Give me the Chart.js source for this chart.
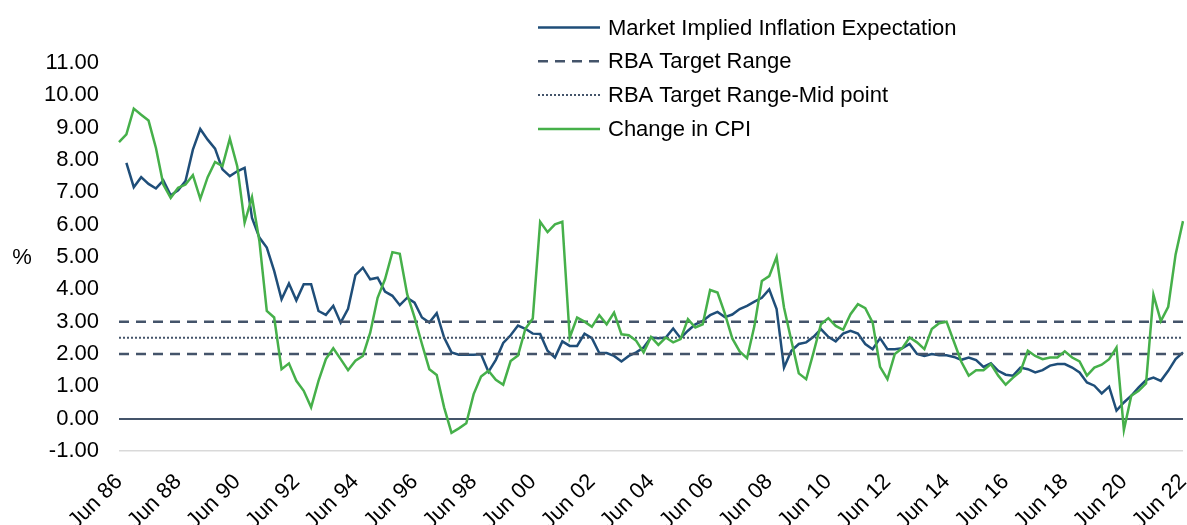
<!DOCTYPE html>
<html>
<head>
<meta charset="utf-8">
<script src="https://cdn.jsdelivr.net/npm/chart.js@4.4.1/dist/chart.umd.min.js"></script>
<style>
  body { margin: 0; background: #fff; }
</style>
</head>
<body>
<canvas id="myChart" width="1187" height="525"></canvas>
<script>
// quarterly, Jun 86 .. Jun 22
const marketImplied = [
  null, 7.91, 7.16, 7.47, 7.26, 7.12, 7.37, 6.91, 7.06, 7.35,
  8.32, 8.96, 8.63, 8.35, 7.71, 7.50, 7.65, 7.76, 6.21, 5.60,
  5.29, 4.57, 3.69, 4.18, 3.66, 4.16, 4.16, 3.33, 3.21, 3.49,
  2.97, 3.40, 4.44, 4.67, 4.31, 4.36, 3.93, 3.80, 3.51, 3.74,
  3.59, 3.13, 2.97, 3.26, 2.51, 2.05, 1.98, 1.98, 1.98, 1.99,
  1.45, 1.82, 2.34, 2.58, 2.88, 2.78, 2.63, 2.62, 2.10, 1.89,
  2.39, 2.25, 2.25, 2.63, 2.49, 2.03, 2.03, 1.94, 1.77, 1.94,
  2.05, 2.20, 2.51, 2.49, 2.51, 2.79, 2.49, 2.72, 2.92, 3.02,
  3.20, 3.30, 3.14, 3.22, 3.39, 3.49, 3.62, 3.74, 4.00, 3.39,
  1.58, 2.10, 2.31, 2.36, 2.53, 2.77, 2.53, 2.39, 2.63, 2.72,
  2.63, 2.31, 2.15, 2.49, 2.15, 2.15, 2.18, 2.31, 2.00, 1.94,
  2.00, 1.96, 1.96, 1.91, 1.82, 1.89, 1.81, 1.60, 1.71, 1.48,
  1.36, 1.33, 1.58, 1.53, 1.43, 1.50, 1.64, 1.69, 1.69, 1.58,
  1.43, 1.12, 1.02, 0.78, 0.99, 0.25, 0.50, 0.71, 0.97, 1.19,
  1.27, 1.17, 1.48, 1.84, 2.05
];
const cpiChange = [
  8.55, 8.79, 9.59, 9.40, 9.22, 8.37, 7.24, 6.83, 7.14, 7.24,
  7.53, 6.80, 7.47, 7.94, 7.81, 8.66, 7.81, 6.06, 6.85, 5.49,
  3.33, 3.13, 1.53, 1.71, 1.17, 0.86, 0.35, 1.17, 1.84, 2.18,
  1.84, 1.50, 1.79, 1.94, 2.66, 3.74, 4.31, 5.15, 5.10, 3.85,
  3.13, 2.31, 1.53, 1.35, 0.35, -0.44, -0.30, -0.14, 0.76, 1.30,
  1.48, 1.20, 1.05, 1.78, 1.95, 2.78, 3.10, 6.09, 5.77, 6.01,
  6.09, 2.51, 3.13, 3.00, 2.84, 3.20, 2.92, 3.28, 2.61, 2.58,
  2.41, 2.05, 2.53, 2.28, 2.51, 2.36, 2.46, 3.08, 2.82, 2.92,
  3.98, 3.90, 3.25, 2.48, 2.08, 1.87, 2.87, 4.26, 4.41, 5.00,
  3.44, 2.41, 1.40, 1.22, 2.05, 2.92, 3.11, 2.87, 2.75, 3.23,
  3.54, 3.42, 2.97, 1.60, 1.22, 2.00, 2.18, 2.51, 2.36, 2.15,
  2.77, 2.95, 3.00, 2.38, 1.76, 1.33, 1.50, 1.50, 1.69, 1.33,
  1.05, 1.27, 1.46, 2.10, 1.94, 1.84, 1.89, 1.89, 2.08, 1.89,
  1.77, 1.33, 1.58, 1.67, 1.84, 2.20, -0.35, 0.71, 0.86, 1.09,
  3.83, 3.02, 3.46, 5.08, 6.11
];
const rbaTop = 3;
const rbaBottom = 2;
const rbaMid = 2.5;
const yMin = -1, yMax = 11;

const months = ['Jun', 'Sep', 'Dec', 'Mar'];
const quarters = [];
for (let i = 0; i < cpiChange.length; i++) {
  const yr = 1986 + Math.floor((i + 1) / 4);
  quarters.push(months[i % 4] + ' ' + String(yr % 100).padStart(2, '0'));
}

const FONT = '"Liberation Sans", Arial, sans-serif';
const FSIZE = 22;
const SLATE = '#44546A';

// legend drawn by hand as a vertical list, plus the "%" label
const sideLegend = {
  id: 'sideLegend',
  afterDraw(chart) {
    const c = chart.ctx;
    let y = 27.5;
    chart.data.datasets.forEach(ds => {
      if (ds.skipLegend) return;
      c.save();
      c.strokeStyle = ds.borderColor;
      c.lineWidth = ds.borderWidth;
      c.setLineDash(ds.borderDash || []);
      c.beginPath();
      c.moveTo(538, y);
      c.lineTo(600, y);
      c.stroke();
      c.restore();
      c.fillStyle = '#000';
      c.font = FSIZE + 'px ' + FONT;
      c.textBaseline = 'middle';
      c.textAlign = 'left';
      c.fillText(ds.label, 608, y + 1);
      y += 33.8;
    });
    c.fillStyle = '#000';
    c.font = FSIZE + 'px ' + FONT;
    c.textAlign = 'center';
    c.textBaseline = 'middle';
    c.fillText('%', 22, 258);
  }
};

const ctx = document.getElementById('myChart').getContext('2d');
const myChart = new Chart(ctx, {
  type: 'line',
  data: {
    labels: quarters,
    datasets: [
      {
        label: 'Market Implied Inflation Expectation',
        data: marketImplied,
        borderColor: '#1F4E79',
        borderWidth: 2.5,
        order: 5
      },
      {
        label: 'RBA Target Range',
        data: quarters.map(() => rbaTop),
        borderColor: SLATE,
        borderWidth: 2.5,
        borderDash: [10, 7],
        order: 3
      },
      {
        label: 'RBA Target Range-Mid point',
        data: quarters.map(() => rbaMid),
        borderColor: SLATE,
        borderWidth: 2,
        borderDash: [2, 2],
        order: 2
      },
      {
        label: 'Change in CPI',
        data: cpiChange,
        borderColor: '#46B04A',
        borderWidth: 2.5,
        order: 1
      },
      {
        label: 'RBA Target Range (low)',
        data: quarters.map(() => rbaBottom),
        borderColor: SLATE,
        borderWidth: 2.5,
        borderDash: [10, 7],
        order: 3,
        skipLegend: true
      }
    ]
  },
  options: {
    responsive: false,
    animation: false,
    layout: { padding: { top: 63, right: 4, left: 0, bottom: 0 } },
    elements: {
      point: { radius: 0 },
      line: { tension: 0, fill: false }
    },
    spanGaps: true,
    plugins: {
      legend: { display: false },
      tooltip: { enabled: false }
    },
    scales: {
      x: {
        offset: false,
        grid: { display: false, drawTicks: false },
        border: { display: false },
        ticks: {
          autoSkip: false,
          minRotation: 45,
          maxRotation: 45,
          padding: 18,
          color: '#000',
          font: { family: FONT, size: FSIZE },
          callback: function (v, i) { return i % 8 === 0 ? this.getLabelForValue(v) : null; }
        },
        afterFit(scale) {
          scale.height = 74;
          scale.paddingLeft = 0;
          scale.paddingRight = 0;
        }
      },
      y: {
        min: yMin,
        max: yMax,
        grid: {
          drawTicks: false,
          color: c => c.tick.value === 0 ? SLATE : (c.tick.value === -1 ? '#D9D9D9' : 'rgba(0,0,0,0)'),
          lineWidth: c => c.tick.value === 0 ? 2 : 1.5
        },
        border: { display: false },
        ticks: {
          stepSize: 1,
          padding: 20,
          color: '#000',
          font: { family: FONT, size: FSIZE },
          callback: v => v.toFixed(2)
        },
        afterFit(scale) {
          scale.width = 119;
        }
      }
    }
  },
  plugins: [sideLegend]
});
</script>
</body>
</html>
